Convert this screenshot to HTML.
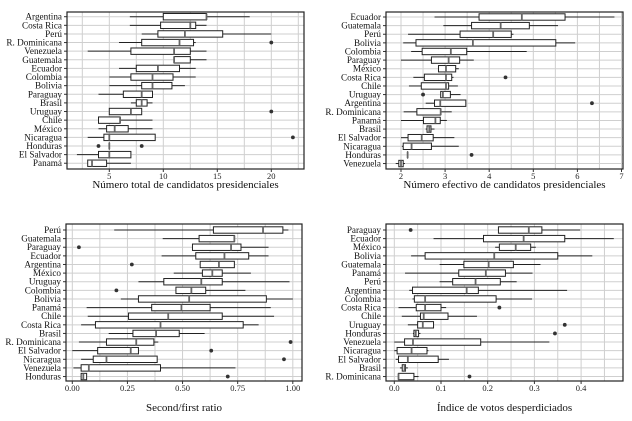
<!DOCTYPE html>
<html><head><meta charset="utf-8"><style>
body{margin:0;background:#fff}
svg{display:block;font-family:"Liberation Serif",serif}
</style></head><body>
<svg id="c" width="632" height="421" viewBox="0 0 632 421"></svg>
<script>
// Panel 1: total number of presidential candidates
const p1Countries=["Argentina","Costa Rica","Perú","R. Dominicana","Venezuela","Guatemala","Ecuador","Colombia","Bolivia","Paraguay","Brasil","Uruguay","Chile","México","Nicaragua","Honduras","El Salvador","Panamá"];
const p1Stats=[[6.9,10,14,14,18],[6.9,9.75,12.5,13,14],[8,9.5,12,15.5,20],[5.9,8,11.5,12.8,13],[3,7,11,12.5,14],[11,11,11,12.5,14],[5.9,7.5,9.5,11.5,13],[5,7,9,10.9,13],[5,8,9,10.8,12],[4,6.3,8,9,9],[7,7.5,8,8.5,9],[5,5,7,8,8],[4,4,6,6,9],[4,4.75,5.5,6.75,9],[3,4.5,5,9.25,9.25],[5,5,5,5,5],[2,4,5,7,7],[3,3,3.4,4.75,7]];
const p1Outliers=[[],[],[],[20],[],[],[],[],[],[],[],[20],[],[],[22],[4,8],[],[]];
const p1Ticks=[5,10,15,20];
// Panel 2: effective number of candidates
const p2Countries=["Ecuador","Guatemala","Perú","Bolivia","Colombia","Paraguay","México","Costa Rica","Chile","Uruguay","Argentina","R. Dominicana","Panamá","Brasil","El Salvador","Nicaragua","Honduras","Venezuela"];
const p2Stats=[[2.76,3.77,4.74,5.72,6.84],[2.96,3.6,4.26,4.91,5.56],[2.16,3.34,4.09,4.5,4.55],[2.05,2.34,3.63,5.51,5.95],[2.23,2.48,3.13,3.49,4.85],[2.0,2.69,3.08,3.33,3.65],[2.85,2.85,3.02,3.24,3.31],[2.28,2.53,3.02,3.15,3.19],[2.18,2.46,3.02,3.08,3.29],[2.9,2.9,2.95,3.12,3.35],[2.56,2.76,2.89,3.47,3.47],[2.06,2.36,2.9,2.9,3.15],[2.0,2.51,2.78,2.89,3.04],[2.56,2.59,2.64,2.68,2.76],[2.0,2.16,2.47,2.73,3.21],[2.02,2.05,2.24,2.69,3.31],[2.15,2.15,2.15,2.15,2.15],[1.88,1.95,2.0,2.05,2.09]];
const p2Outliers=[[],[],[],[],[],[],[],[4.37],[],[2.5],[6.33],[],[],[],[],[],[3.6],[]];
const p2Ticks=[2,3,4,5,6,7];
// Panel 3: second/first ratio
const p3Countries=["Perú","Guatemala","Paraguay","Ecuador","Argentina","México","Uruguay","Colombia","Bolivia","Panamá","Chile","Costa Rica","Brasil","R. Dominicana","El Salvador","Nicaragua","Venezuela","Honduras"];
const p3Stats=[[0.19,0.64,0.865,0.955,0.98],[0.41,0.575,0.735,0.735,0.735],[0.545,0.545,0.72,0.765,0.89],[0.405,0.56,0.69,0.80,0.89],[0.58,0.58,0.665,0.735,0.735],[0.46,0.59,0.635,0.68,0.81],[0.30,0.415,0.585,0.68,0.985],[0.47,0.47,0.54,0.605,0.785],[0.22,0.30,0.53,0.88,1.0],[0.065,0.36,0.495,0.625,0.90],[0.07,0.255,0.435,0.68,0.915],[0.04,0.105,0.40,0.775,0.845],[0.165,0.275,0.38,0.485,0.60],[0.03,0.155,0.29,0.37,0.39],[0.0,0.115,0.265,0.30,0.30],[0.04,0.095,0.155,0.385,0.385],[0.005,0.04,0.075,0.40,0.74],[0.04,0.04,0.05,0.065,0.065]];
const p3Outliers=[[],[],[0.03],[],[0.27],[],[],[0.20],[],[],[],[],[],[0.99],[0.63],[0.96],[],[0.705]];
const p3Ticks=[0,0.25,0.5,0.75,1.0];
const p3TickLabels=["0.00","0.25","0.50","0.75","1.00"];
// Panel 4: wasted votes index
const p4Countries=["Paraguay","Ecuador","México","Bolivia","Guatemala","Panamá","Perú","Argentina","Colombia","Costa Rica","Chile","Uruguay","Honduras","Venezuela","Nicaragua","El Salvador","Brasil","R. Dominicana"];
const p4Stats=[[0.223,0.223,0.288,0.316,0.398],[0.084,0.191,0.277,0.365,0.47],[0.216,0.225,0.26,0.292,0.303],[0.036,0.066,0.214,0.35,0.424],[0.097,0.149,0.202,0.255,0.313],[0.023,0.138,0.196,0.238,0.296],[0.097,0.125,0.174,0.227,0.262],[0.032,0.039,0.155,0.18,0.37],[0.039,0.043,0.066,0.218,0.295],[0.009,0.047,0.066,0.1,0.111],[0.016,0.056,0.063,0.115,0.177],[0.029,0.05,0.061,0.084,0.084],[0.04,0.042,0.046,0.052,0.056],[0.0,0.022,0.04,0.185,0.332],[0.0,0.006,0.037,0.07,0.073],[0.003,0.009,0.029,0.094,0.117],[0.012,0.017,0.022,0.024,0.029],[0.009,0.009,0.009,0.042,0.052]];
const p4Outliers=[[0.035],[],[],[],[],[],[],[],[],[0.225],[],[0.365],[0.344],[],[],[],[],[0.161]];
const p4Ticks=[0,0.1,0.2,0.3,0.4];
const p4TickLabels=["0.0","0.1","0.2","0.3","0.4"];

const NS="http://www.w3.org/2000/svg";
const svg=document.getElementById('c');
function mk(tag,attrs,parent){const e=document.createElementNS(NS,tag);for(const k in attrs)e.setAttribute(k,attrs[k]);(parent||svg).appendChild(e);return e;}

function panel(cfg){
  const g=mk('g',{});
  
  
  const x=v=>cfg.x0+(v-cfg.v0)*cfg.k;
  const y=i=>cfg.r0+i*8.62;
  // minor+major vertical gridlines
  for(let v=cfg.gStart;v<=cfg.gEnd+1e-9;v+=cfg.gStep){
    const gl=mk('line',{x1:x(v),x2:x(v),y1:cfg.T,y2:cfg.B,stroke:'#cfcfcf','stroke-width':1},g);
    
    
  }
  cfg.countries.forEach((c,i)=>{
    const hl=mk('line',{x1:cfg.L,x2:cfg.R,y1:y(i),y2:y(i),stroke:'#cfcfcf','stroke-width':1},g);
    
    
  });
  cfg.countries.forEach((c,i)=>{
    const s=cfg.stats[i], yy=y(i), h=3.2;
    const bx=mk('g',{},g);
    
    
    mk('line',{x1:x(s[0]),x2:x(s[1]),y1:yy,y2:yy,stroke:'#222','stroke-width':1},bx);
    mk('line',{x1:x(s[3]),x2:x(s[4]),y1:yy,y2:yy,stroke:'#222','stroke-width':1},bx);
    mk('rect',{x:x(s[1]),y:yy-h,width:Math.max(x(s[3])-x(s[1]),0.01),height:2*h,fill:'#fff',stroke:'#222','stroke-width':1},bx);
    mk('line',{x1:x(s[2]),x2:x(s[2]),y1:yy-h,y2:yy+h,stroke:'#666','stroke-width':1.8},bx);
    cfg.outliers[i].forEach(o=>{
      const p=mk('circle',{cx:x(o),cy:yy,r:1.9,fill:'#333'},bx);
      
      
    });
    const t=mk('text',{x:cfg.L-5,y:yy+3,'text-anchor':'end','font-size':9.2,fill:'#111'},g);
    t.textContent=c;
    
    
    mk('line',{x1:cfg.L-3,x2:cfg.L,y1:yy,y2:yy,stroke:'#333','stroke-width':1},g);
  });
  const fr=mk('rect',{x:cfg.L,y:cfg.T,width:cfg.R-cfg.L,height:cfg.B-cfg.T,fill:'none',stroke:'#222','stroke-width':1.2},g);
  
  
  cfg.ticks.forEach((v,j)=>{
    mk('line',{x1:x(v),x2:x(v),y1:cfg.B,y2:cfg.B+3,stroke:'#333','stroke-width':1},g);
    const t=mk('text',{x:x(v),y:cfg.B+10,'text-anchor':'middle','font-size':8.5,fill:'#222'},g);
    t.textContent=cfg.tickLabels?cfg.tickLabels[j]:String(v);
    
    
  });
  const tt=mk('text',{x:(cfg.L+cfg.R)/2,y:cfg.titleY,'text-anchor':'middle','font-size':11,fill:'#111'},g);
  tt.textContent=cfg.title;
  
  
}
panel({name:'panel-total-candidates',countries:p1Countries,stats:p1Stats,outliers:p1Outliers,ticks:p1Ticks,
  L:67,R:304,T:12,B:169,x0:55.3,v0:0,k:10.8,r0:16.7,gStart:2.5,gEnd:22.5,gStep:2.5,titleY:188,title:'Número total de candidatos presidenciales'});
panel({name:'panel-effective-candidates',countries:p2Countries,stats:p2Stats,outliers:p2Outliers,ticks:p2Ticks,
  L:386,R:623,T:12,B:169,x0:401,v0:2,k:44.1,r0:17,gStart:2,gEnd:7,gStep:0.5,titleY:188,title:'Número efectivo de candidatos presidenciales'});
panel({name:'panel-second-first-ratio',countries:p3Countries,stats:p3Stats,outliers:p3Outliers,ticks:p3Ticks,tickLabels:p3TickLabels,
  L:66,R:302,T:224,B:381,x0:72.3,v0:0,k:220.5,r0:230,gStart:0,gEnd:1,gStep:0.125,titleY:411,title:'Second/first ratio'});
panel({name:'panel-wasted-votes',countries:p4Countries,stats:p4Stats,outliers:p4Outliers,ticks:p4Ticks,tickLabels:p4TickLabels,
  L:386,R:623,T:224,B:381,x0:394.3,v0:0,k:467,r0:230,gStart:0,gEnd:0.45,gStep:0.05,titleY:411,title:'Índice de votos desperdiciados'});
</script>
</body></html>
